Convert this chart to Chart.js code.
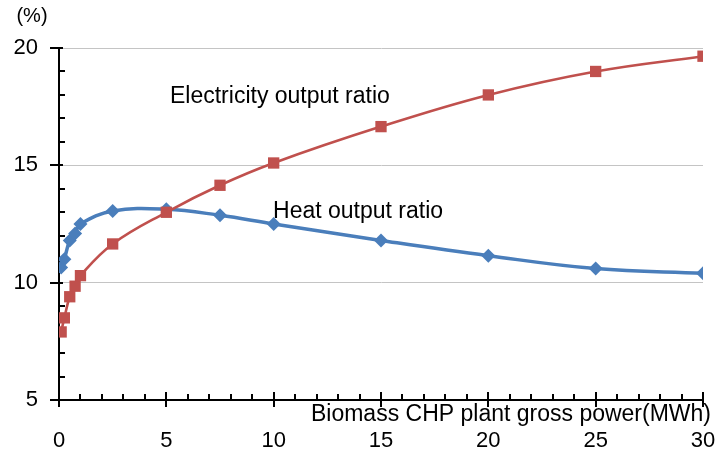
<!DOCTYPE html>
<html>
<head>
<meta charset="utf-8">
<script src="https://cdn.jsdelivr.net/npm/chart.js@4.4.1/dist/chart.umd.min.js"></script>
<style>
  html, body { margin: 0; padding: 0; background: #ffffff; }
  #wrap { width: 715px; height: 454px; position: relative; }
</style>
</head>
<body>
<div id="wrap"><canvas id="c" width="715" height="454"></canvas></div>
<script>
// ---- Data ----
const powerMW = [0.1, 0.25, 0.5, 0.75, 1, 2.5, 5, 7.5, 10, 15, 20, 25, 30];
const heatRatio = [10.65, 11.0, 11.8, 12.1, 12.5, 13.05, 13.13, 12.87, 12.5, 11.8, 11.15, 10.6, 10.4];
const electricityRatio = [7.9, 8.5, 9.4, 9.85, 10.3, 11.65, 13.0, 14.15, 15.1, 16.65, 18.0, 19.0, 19.65];
const xTicks = [0, 5, 10, 15, 20, 25, 30];
const yTicks = [5, 10, 15, 20];
const seriesNames = ['Heat output ratio', 'Electricity output ratio'];
const xAxisTitle = 'Biomass CHP plant gross power(MWh)';
const yAxisUnit = '(%)';
// in-plot labels, anchored in data units
const labelAnchors = [
  { text: 'Electricity output ratio', x: 5.17, y: 17.66 },
  { text: 'Heat output ratio', x: 9.97, y: 12.76 }
];

const FONT = '"Liberation Sans", Arial, sans-serif';

const toPoints = (xs, ys) => xs.map((x, i) => ({ x: x, y: ys[i] }));

const decorPlugin = {
  id: 'decor',
  beforeDatasetsDraw(chart) {
    const ctx = chart.ctx;
    const xs = chart.scales.x, ys = chart.scales.y;
    const ax = xs.getPixelForValue(0);
    const ay = ys.getPixelForValue(5);
    ctx.save();
    ctx.strokeStyle = '#000000';
    ctx.lineWidth = 2;
    ctx.beginPath();
    // y axis ticks (minor every 1, major every 5)
    for (let v = 5; v <= 20; v++) {
      const py = Math.round(ys.getPixelForValue(v));
      if (v % 5 === 0) { ctx.moveTo(ax - 9, py); ctx.lineTo(ax + 4, py); }
      else { ctx.moveTo(ax, py); ctx.lineTo(ax + 6, py); }
    }
    // x axis ticks
    for (let v = 0; v <= 30; v++) {
      const px = Math.round(xs.getPixelForValue(v));
      if (v % 5 === 0) { ctx.moveTo(px, ay - 8); ctx.lineTo(px, ay + 7); }
      else { ctx.moveTo(px, ay); ctx.lineTo(px, ay - 6); }
    }
    ctx.stroke();
    ctx.restore();
  },
  afterDraw(chart) {
    const ctx = chart.ctx;
    const xs = chart.scales.x, ys = chart.scales.y;
    ctx.save();
    ctx.fillStyle = '#000000';
    ctx.textBaseline = 'alphabetic';
    ctx.font = '23px ' + FONT;
    ctx.textAlign = 'left';
    labelAnchors.forEach(l => {
      ctx.fillText(l.text, xs.getPixelForValue(l.x), ys.getPixelForValue(l.y));
    });
    // x axis title, right aligned above tick labels
    ctx.textAlign = 'right';
    ctx.fillText(xAxisTitle, chart.chartArea.right + 8, ys.getPixelForValue(5) + 21);
    // y unit
    ctx.font = '20px ' + FONT;
    ctx.textAlign = 'center';
    ctx.fillText(yAxisUnit, 32, 22);
    ctx.restore();
  }
};

new Chart(document.getElementById('c'), {
  type: 'line',
  data: {
    datasets: [
      {
        label: seriesNames[1],
        data: toPoints(powerMW, electricityRatio),
        borderColor: '#C0504D',
        backgroundColor: '#C0504D',
        borderWidth: 2.6,
        pointStyle: 'rect',
        pointRadius: 8,
        pointBorderWidth: 0,
        tension: 0.4,
        fill: false
      },
      {
        label: seriesNames[0],
        data: toPoints(powerMW, heatRatio),
        borderColor: '#4A7EBB',
        backgroundColor: '#4A7EBB',
        borderWidth: 3.5,
        pointStyle: 'rectRot',
        pointRadius: 7,
        pointBorderWidth: 0,
        tension: 0.4,
        fill: false
      }
    ]
  },
  options: {
    responsive: false,
    animation: false,
    devicePixelRatio: 1,
    layout: { padding: { left: 0, top: 48, right: 12, bottom: 0 } },
    plugins: {
      legend: { display: false },
      tooltip: { enabled: false },
      title: { display: false }
    },
    scales: {
      x: {
        type: 'linear',
        min: 0, max: 30,
        afterFit(scale) { scale.height = 54; scale.paddingLeft = 0; scale.paddingRight = 0; },
        afterBuildTicks(scale) { scale.ticks = xTicks.map(v => ({ value: v })); },
        grid: { display: false, drawTicks: false },
        border: { display: true, color: '#000000', width: 2 },
        ticks: { color: '#000000', font: { family: FONT, size: 22 }, padding: 28, maxRotation: 0, autoSkip: false }
      },
      y: {
        type: 'linear',
        min: 5, max: 20,
        afterFit(scale) { scale.width = 59; scale.paddingTop = 0; scale.paddingBottom = 0; },
        afterBuildTicks(scale) { scale.ticks = yTicks.map(v => ({ value: v })); },
        grid: {
          display: true,
          drawTicks: false,
          color: (c) => (c.tick && c.tick.value === 5) ? 'rgba(0,0,0,0)' : '#c4c4c4',
          lineWidth: 1
        },
        border: { display: true, color: '#000000', width: 2 },
        ticks: { color: '#000000', font: { family: FONT, size: 22 }, padding: 21 }
      }
    }
  },
  plugins: [decorPlugin]
});
</script>
</body>
</html>
